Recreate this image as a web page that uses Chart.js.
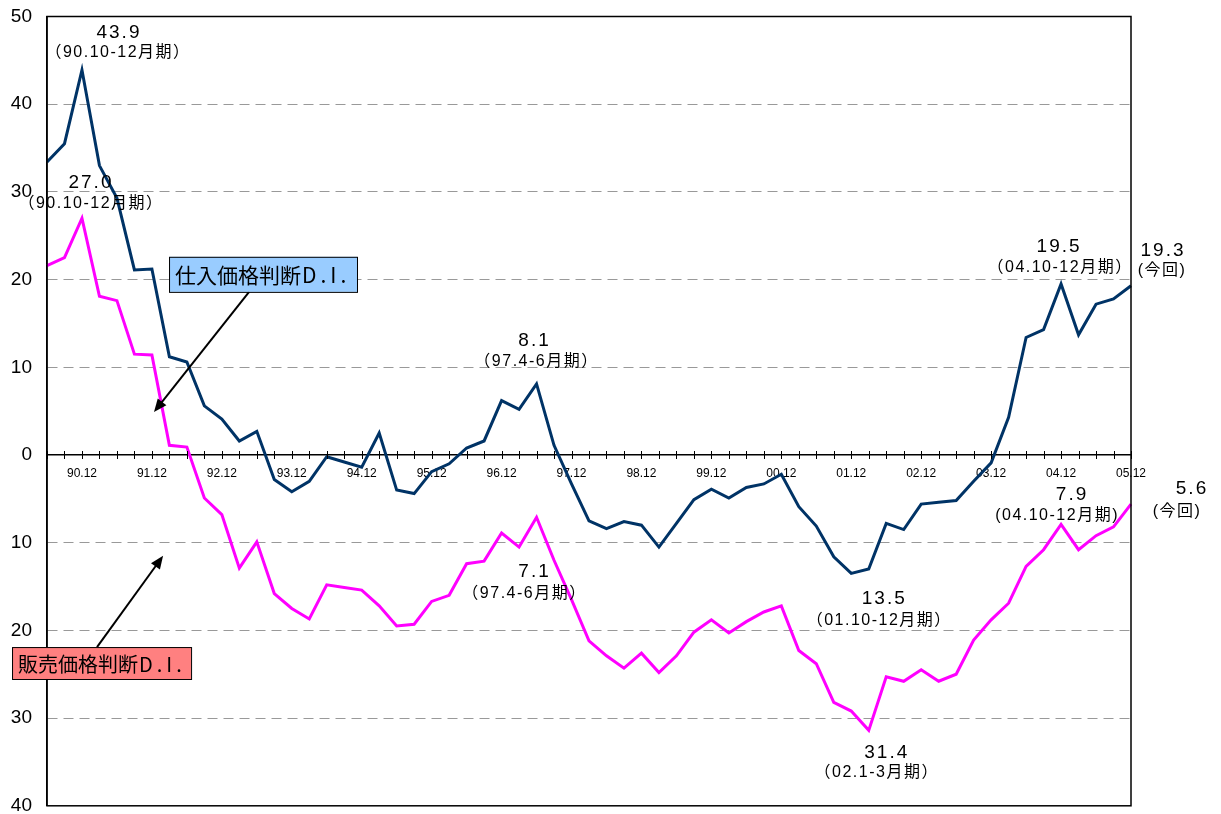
<!DOCTYPE html>
<html><head><meta charset="utf-8">
<script src="https://cdn.jsdelivr.net/npm/chart.js@4.4.1/dist/chart.umd.min.js"></script>
<style>html,body{margin:0;padding:0;background:#fff;overflow:hidden}</style>
</head><body>
<canvas id="c" width="1221" height="814"></canvas>
<script>
// ---- data ----
const quarterLabels = [
 "90.6","90.9","90.12",
 "91.3","91.6","91.9","91.12",
 "92.3","92.6","92.9","92.12",
 "93.3","93.6","93.9","93.12",
 "94.3","94.6","94.9","94.12",
 "95.3","95.6","95.9","95.12",
 "96.3","96.6","96.9","96.12",
 "97.3","97.6","97.9","97.12",
 "98.3","98.6","98.9","98.12",
 "99.3","99.6","99.9","99.12",
 "00.3","00.6","00.9","00.12",
 "01.3","01.6","01.9","01.12",
 "02.3","02.6","02.9","02.12",
 "03.3","03.6","03.9","03.12",
 "04.3","04.6","04.9","04.12",
 "05.3","05.6","05.9","05.12"
];
const yearEndTicks = ["90.12","91.12","92.12","93.12","94.12","95.12","96.12","97.12",
 "98.12","99.12","00.12","01.12","02.12","03.12","04.12","05.12"];
// 仕入価格判断D.I.
const purchaseDI = [33.4,35.5,43.9,33.0,29.3,21.1,21.2,11.2,10.6,5.6,4.1,1.6,2.7,-2.8,-4.2,-3.0,
 -0.2,-0.8,-1.4,2.5,-4.0,-4.4,-1.9,-1.0,0.8,1.6,6.2,5.2,8.1,1.1,-3.3,-7.5,-8.4,-7.6,-8.0,-10.5,
 -7.8,-5.1,-3.9,-4.9,-3.7,-3.3,-2.2,-5.9,-8.1,-11.6,-13.5,-13.0,-7.8,-8.5,-5.6,-5.4,-5.2,-3.0,
 -0.9,4.3,13.4,14.3,19.5,13.7,17.2,17.8,19.3];
// 販売価格判断D.I.
const salesDI = [21.6,22.5,27.0,18.1,17.6,11.5,11.4,1.1,0.9,-4.9,-6.8,-12.9,-9.9,-15.8,-17.5,-18.7,
 -14.8,-15.1,-15.4,-17.2,-19.5,-19.3,-16.7,-16.0,-12.4,-12.1,-8.9,-10.5,-7.1,-12.0,-16.5,-21.2,
 -22.9,-24.3,-22.6,-24.8,-22.9,-20.2,-18.8,-20.3,-19.0,-17.9,-17.2,-22.3,-23.8,-28.2,-29.2,-31.4,
 -25.3,-25.8,-24.5,-25.8,-25.0,-21.1,-18.8,-16.9,-12.7,-10.8,-7.9,-10.8,-9.2,-8.2,-5.6];
const seriesNames = ["仕入価格判断D.I.","販売価格判断D.I."];
const yMin = -40, yMax = 50, yStep = 10;

// ---- notes (which point, period text, text offsets in px) ----
const noteSpecs = [
 {ds:0,i:2, period:"（90.10-12月期）", v:[37,-37], p:[36,-17]},
 {ds:1,i:2, period:"（90.10-12月期）", v:[9,-35], p:[9,-15]},
 {ds:0,i:28,period:"（97.4-6月期）", v:[-2,-43], p:[0,-22]},
 {ds:1,i:28,period:"（97.4-6月期）", v:[-2,54], p:[-12,76]},
 {ds:0,i:46,period:"（01.10-12月期）", v:[33,25], p:[28,47]},
 {ds:1,i:47,period:"（02.1-3月期）", v:[18,22], p:[8,42]},
 {ds:0,i:58,period:"（04.10-12月期）", v:[-2,-37], p:[-1,-16]},
 {ds:0,i:62,period:"(今回)", v:[32,-35], p:[31,-15]},
 {ds:1,i:58,period:"(04.10-12月期)", v:[11,-30], p:[-4,-9]},
 {ds:1,i:62,period:"(今回)", v:[61,-15], p:[46,7]}
];
// series tag boxes, in axis units (category index, value)
const tagSpecs = [
 {name:0, fill:"#99CCFF", size:21, box:[6.98,22.6,17.73,18.6], from:[11.56,18.6], to:[6.12,4.9]},
 {name:1, fill:"#FF8080", size:20, box:[-2.0,-21.9,8.24,-25.54], from:[2.86,-21.9], to:[6.64,-11.5]}
];

const decor = {
 id:'decor',
 afterDraw(chart){
  const {ctx, chartArea:a, scales:{x,y}} = chart;
  const data = [purchaseDI, salesDI];
  ctx.save();
  // cross ticks on the zero line
  const y0 = y.getPixelForValue(0);
  ctx.strokeStyle='#000'; ctx.lineWidth=1;
  for(let i=0;i<quarterLabels.length;i++){
   const px = Math.round(x.getPixelForValue(i))+0.5;
   ctx.beginPath(); ctx.moveTo(px,y0-4); ctx.lineTo(px,y0+4); ctx.stroke();
  }
  // frame
  ctx.lineWidth=1.5;
  ctx.strokeRect(a.left,a.top,a.right-a.left,a.bottom-a.top);
  // value notes
  ctx.fillStyle='#000'; ctx.textAlign='center'; ctx.textBaseline='middle';
  noteSpecs.forEach(n=>{
   const px = x.getPixelForValue(n.i), py = y.getPixelForValue(data[n.ds][n.i]);
   ctx.font='19px "Liberation Sans", "Noto Sans CJK JP"';
   ctx.letterSpacing='2px';
   ctx.fillText(Math.abs(data[n.ds][n.i]).toFixed(1), px+n.v[0], py+n.v[1]);
   ctx.font='16px "Liberation Sans", "Noto Sans CJK JP"';
   ctx.letterSpacing='1.5px';
   ctx.fillText(n.period, px+n.p[0], py+n.p[1]);
  });
  ctx.letterSpacing='0px';
  // series tags with arrows
  tagSpecs.forEach(t=>{
   const x1=x.getPixelForValue(t.box[0]), y1=y.getPixelForValue(t.box[1]);
   const x2=x.getPixelForValue(t.box[2]), y2=y.getPixelForValue(t.box[3]);
   const ax=x.getPixelForValue(t.from[0]), ay=y.getPixelForValue(t.from[1]);
   const bx=x.getPixelForValue(t.to[0]), by=y.getPixelForValue(t.to[1]);
   const ang=Math.atan2(by-ay,bx-ax), L=13, W=5.5;
   ctx.strokeStyle='#000'; ctx.lineWidth=2;
   ctx.beginPath(); ctx.moveTo(ax,ay);
   ctx.lineTo(bx-Math.cos(ang)*L*0.8, by-Math.sin(ang)*L*0.8); ctx.stroke();
   ctx.fillStyle='#000'; ctx.beginPath();
   ctx.moveTo(bx,by);
   ctx.lineTo(bx-Math.cos(ang)*L-Math.sin(ang)*W, by-Math.sin(ang)*L+Math.cos(ang)*W);
   ctx.lineTo(bx-Math.cos(ang)*L+Math.sin(ang)*W, by-Math.sin(ang)*L-Math.cos(ang)*W);
   ctx.closePath(); ctx.fill();
   ctx.fillStyle=t.fill; ctx.fillRect(x1,y1,x2-x1,y2-y1);
   ctx.lineWidth=1; ctx.strokeStyle='#000'; ctx.strokeRect(x1+0.5,y1+0.5,x2-x1,y2-y1);
   ctx.fillStyle='#000'; ctx.textAlign='left'; ctx.textBaseline='middle';
   ctx.font=t.size+'px "Noto Sans CJK JP"';
   const name=seriesNames[t.name], k=name.indexOf('D');
   const head=name.slice(0,k), tail=name.slice(k);
   const ty=(y1+y2)/2+1;
   ctx.fillText(head, x1+6, ty);
   const w=ctx.measureText(head).width;
   ctx.letterSpacing='4px';
   ctx.fillText(tail, x1+7+w, ty);
   ctx.letterSpacing='0px';
  });
  ctx.restore();
 }
};

new Chart(document.getElementById('c'),{
 type:'line',
 data:{labels:quarterLabels, datasets:[
  {label:seriesNames[0], data:purchaseDI, borderColor:'#003366', borderWidth:3, pointRadius:0, tension:0, fill:false},
  {label:seriesNames[1], data:salesDI, borderColor:'#FF00FF', borderWidth:3, pointRadius:0, tension:0, fill:false}
 ]},
 options:{
  responsive:false, animation:false, devicePixelRatio:1,
  layout:{padding:{left:11,right:90,top:16.5,bottom:8.2}},
  plugins:{legend:{display:false}, tooltip:{enabled:false}},
  scales:{
   x:{type:'category', position:{y:0}, offset:false,
    grid:{display:false, drawTicks:true, tickLength:11.5},
    border:{display:true,color:'#000',width:1.5},
    ticks:{autoSkip:false, maxRotation:0, minRotation:0, padding:0, color:'#000',
     font:{family:'"Liberation Sans", Arial', size:12},
     callback:(v,i)=> yearEndTicks.includes(quarterLabels[i]) ? quarterLabels[i] : ''}},
   y:{min:yMin, max:yMax,
    afterFit:s=>{ s.width=36; s.paddingTop=0; s.paddingBottom=0; },
    grid:{drawTicks:false, lineWidth:1,
     color:c=> (c.tick && (c.tick.value===0||c.tick.value===yMax||c.tick.value===yMin)) ? 'rgba(0,0,0,0)' : '#999999'},
    border:{display:true,color:'#000',width:1.5,dash:[10,6]},
    ticks:{stepSize:yStep, padding:15, color:'#000',
     font:{family:'"Liberation Sans", Arial', size:19, lineHeight:0.9},
     callback:v=>Math.abs(v)}}
  }
 },
 plugins:[decor]
});
</script>
</body></html>
